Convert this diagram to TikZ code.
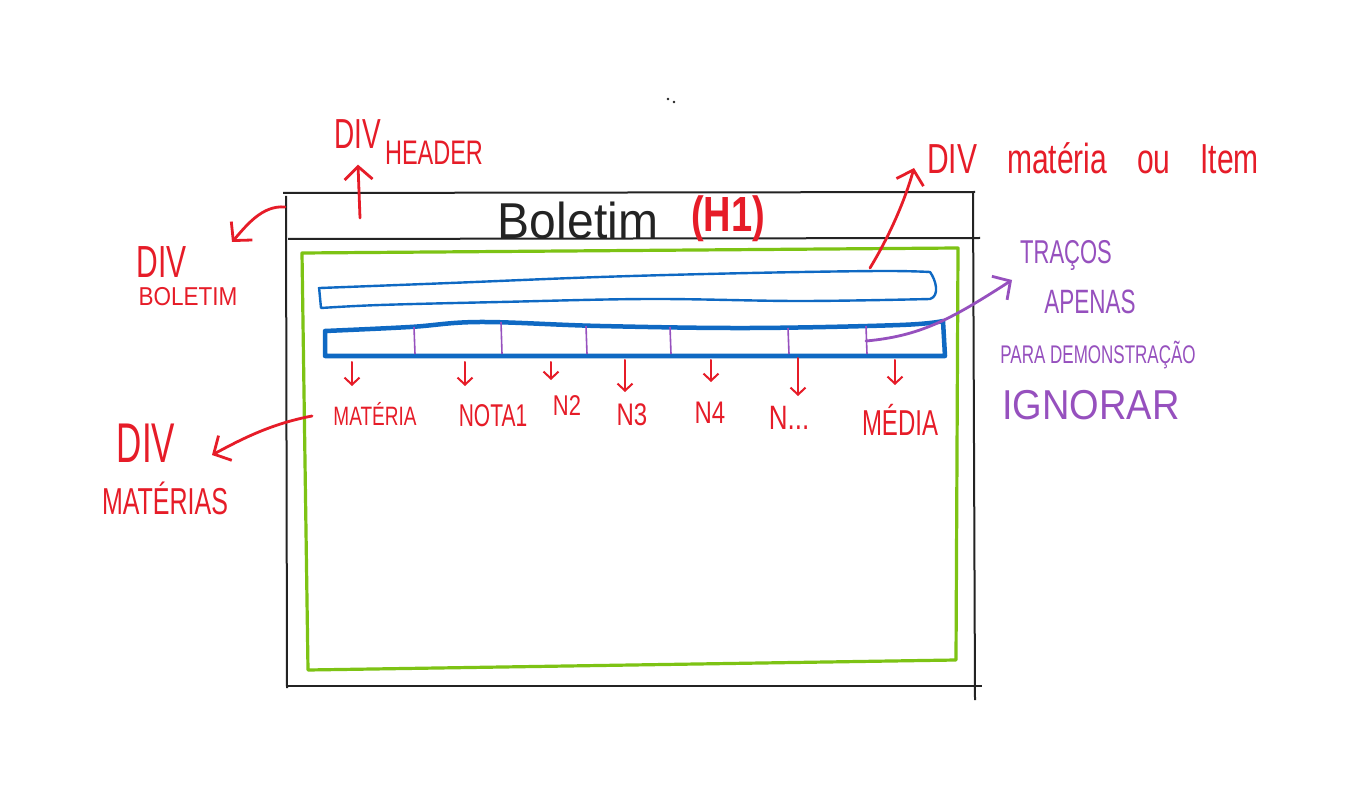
\documentclass[tikz,border=0pt]{standalone}
\usepackage{fontspec}
\usepackage{graphicx}
\setmainfont{Liberation Sans}
\usetikzlibrary{arrows.meta}
\definecolor{inkred}{RGB}{230,28,40}
\definecolor{inkgreen}{RGB}{125,195,20}
\definecolor{inkblue}{RGB}{15,105,195}
\definecolor{inkpurple}{RGB}{150,80,190}
\definecolor{inkblack}{RGB}{35,35,35}
\newcommand{\hw}[3]{\scalebox{1}[#2]{\fontsize{#1}{#1}\selectfont #3}}
\begin{document}
\begin{tikzpicture}[x=1pt,y=-1pt,
  redtxt/.style={text=inkred, inner sep=0pt},
  purtxt/.style={text=inkpurple, inner sep=0pt},
  blkline/.style={draw=inkblack, line width=2pt},
  redarrow/.style={draw=inkred, line width=2.8pt, line cap=round, line join=round, -{Straight Barb[length=13pt,width=28pt]}},
  smallarrow/.style={draw=inkred, line width=2pt, line cap=round, line join=round, -{Straight Barb[length=7pt,width=15pt]}},
  purarrow/.style={draw=inkpurple, line width=2.8pt, line cap=round, line join=round, -{Straight Barb[length=13pt,width=28pt]}},
  divider/.style={draw=inkpurple, line width=1.6pt}
]
\useasboundingbox (0,0) rectangle (1363,802);
\fill[white] (0,0) rectangle (1363,802);

% stray dots
\fill[inkblack] (668,99) circle (1.3);
\fill[inkblack] (674,102) circle (1.3);

% outer page box (black)
\draw[blkline] (283,193) -- (975,192);
\draw[blkline] (288,239) -- (980,238);
\draw[blkline] (286,196) -- (287,688);
\draw[blkline] (973,192) -- (975,700);
\draw[blkline] (288,686) -- (982,686);

% green matérias container
\draw[draw=inkgreen, line width=3.2pt, line join=round] (302,253) -- (958,248) -- (956,660) -- (308,670) -- cycle;

% thin blue item bar
\draw[draw=inkblue, line width=2.4pt, line join=round]
  plot[smooth, tension=0.6] coordinates {(320,288) (450,283) (600,277) (750,273) (880,271) (930,272)}
  .. controls (936,280) and (940,296) .. (930,299)
  -- plot[smooth, tension=0.6] coordinates {(930,299) (800,301) (650,299) (500,302) (380,305) (321,308)}
  -- (319,287);

% thick blue item bar
\draw[draw=inkblue, line width=4.5pt, line join=round]
  plot[smooth, tension=0.6] coordinates {(325,331) (410,327) (480,322) (600,326) (750,328) (900,325) (943,321)}
  -- (945,356) -- (325,356) -- cycle;

% purple dividers
\foreach \xx/\yt in {414/327, 501/322, 586/326, 670/327, 788/328, 866/326}
  \draw[divider] (\xx,\yt) -- (\xx+1,354);

% title
\node[text=inkblack, inner sep=0pt] (title) at (578,220) {\hw{48}{1.05}{Boletim}};
\node[redtxt] (h1) at (728,219) {\hw{38}{1.3}{\bfseries (H1)}};

% DIV HEADER
\node[redtxt] (hdrdiv) at (358,134) {\hw{28}{1.5}{DIV}};
\node[redtxt] (hdr) at (434,153) {\hw{23.5}{1.45}{HEADER}};
\coordinate (hdrtail) at (360,218);
\draw[redarrow] (hdrtail) -- ([yshift=-16pt]hdrdiv.south);

% DIV BOLETIM
\node[redtxt] (boldiv) at (162,262) {\hw{30}{1.5}{DIV}};
\node[redtxt] (bol) at (188,297) {\hw{22.5}{1.15}{BOLETIM}};
\coordinate (boltail) at (285,207);
\coordinate (boltip) at (232,242);
\draw[redarrow] (boltail) .. controls (262,205) and (246,226) .. (boltip);

% DIV MATÉRIAS
\node[redtxt] (matdiv) at (146,443) {\hw{35}{1.6}{DIV}};
\node[redtxt] (mats) at (165,498) {\hw{25}{1.5}{MATÉRIAS}};
\coordinate (mattail) at (312,416);
\coordinate (mattip) at (212,455);
\draw[redarrow] (mattail) .. controls (270,424) and (240,440) .. (mattip);

% DIV matéria ou Item
\node[redtxt] (item) at (1093,158) {\hw{30}{1.4}{DIV\hspace{30pt}matéria\hspace{30pt}ou\hspace{30pt}Item}};
\coordinate (itemtail) at (870,268);
\coordinate (itemtip) at (914,168);
\draw[redarrow] (itemtail) .. controls (890,235) and (905,200) .. (itemtip);

% purple note
\node[purtxt] (tracos) at (1066,255) {\hw{22}{1.5}{TRAÇOS}};
\node[purtxt] (apenas) at (1090,302) {\hw{22.5}{1.5}{APENAS}};
\node[purtxt] (demo) at (1098,355) {\hw{17}{1.5}{PARA DEMONSTRAÇÃO}};
\node[purtxt] (ignorar) at (1091,405) {\hw{38}{1.1}{IGNORAR}};
\coordinate (purtail) at (866,341);
\coordinate (purtip) at (1012,280);
\draw[purarrow] (purtail) .. controls (920,336) and (950,320) .. (purtip);

% column labels
\node[redtxt] (lmat) at (375,414) {\hw{19}{1.4}{MATÉRIA}};
\node[redtxt] (lnota) at (493,416) {\hw{21}{1.5}{NOTA1}};
\node[redtxt] (ln2) at (567,406) {\hw{22}{1.3}{N2}};
\node[redtxt] (ln3) at (632,415) {\hw{24}{1.3}{N3}};
\node[redtxt] (ln4) at (710,413) {\hw{24}{1.3}{N4}};
\node[redtxt] (lnn) at (789,418) {\hw{26}{1.3}{N...}};
\node[redtxt] (lmed) at (900,420) {\hw{24}{1.5}{MÉDIA}};

\coordinate (c1) at (352,362);
\coordinate (c2) at (465,362);
\coordinate (c3) at (551,362);
\coordinate (c4) at (625,360);
\coordinate (c5) at (711,360);
\coordinate (c6) at (798,358);
\coordinate (c7) at (895,360);
\draw[smallarrow] (c1) -- ++(0,24);
\draw[smallarrow] (c2) -- ++(0,24);
\draw[smallarrow] (c3) -- ++(0,18);
\draw[smallarrow] (c4) -- ++(0,32);
\draw[smallarrow] (c5) -- ++(0,22);
\draw[smallarrow] (c6) -- ++(0,38);
\draw[smallarrow] (c7) -- ++(0,25);
\end{tikzpicture}
\end{document}
